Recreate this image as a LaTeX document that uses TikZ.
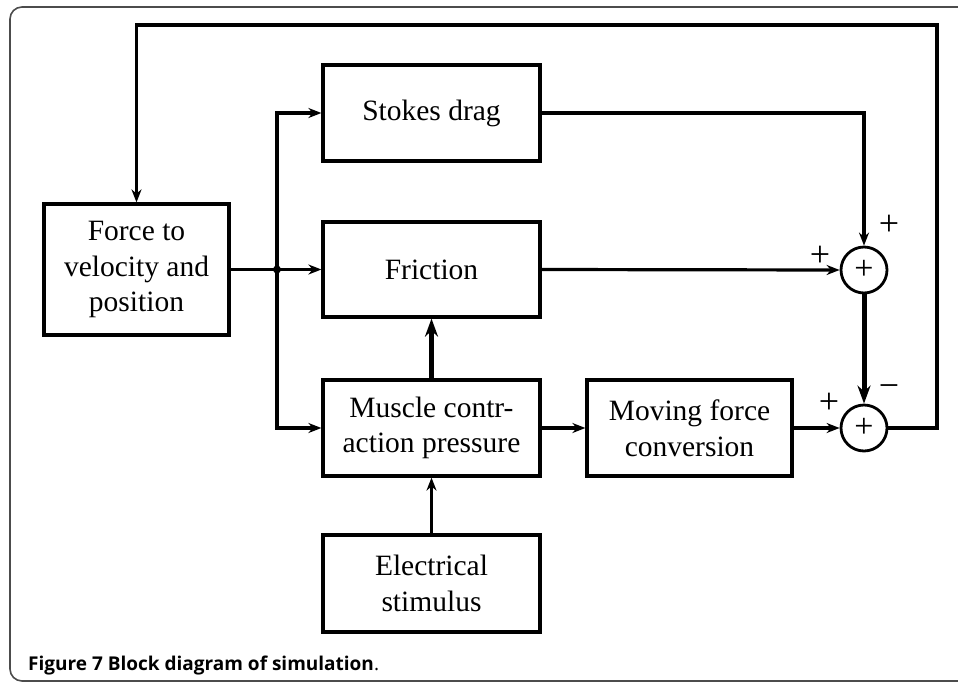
\documentclass[tikz,border=0pt]{standalone}
\usepackage{fontspec}
\setmainfont{Liberation Serif}
\newfontfamily\capfont{Open Sans}
\usetikzlibrary{arrows.meta}
\begin{document}
\begin{tikzpicture}[x=1pt,y=-1pt,
  blk/.style={draw,line width=3.2pt,rectangle,align=center,inner sep=0pt,
    font=\fontsize{29.5}{35.5}\selectfont},
  sumnode/.style={draw,line width=2.8pt,circle,minimum size=46pt,inner sep=0pt,
    font=\fontsize{34}{34}\selectfont},
  conn/.style={line width=3.2pt,-{Stealth[length=13pt,width=10pt]}},
  plain/.style={line width=3.2pt},
  thick conn/.style={line width=5pt,-{Stealth[length=18pt,width=13pt]}},
  sgn/.style={font=\fontsize{36}{36}\selectfont,inner sep=0pt}]
\useasboundingbox (0,0) rectangle (958,683);
\draw[line width=1.6pt,draw=black!70,rounded corners=12pt] (10,7) rectangle (990,681);
\node[blk,minimum width=185pt,minimum height=131pt] (force) at (136.5,269.5) {Force to\\velocity and\\position};
\node[blk,minimum width=217pt,minimum height=96pt] (stokes) at (431.5,113) {Stokes drag};
\node[blk,minimum width=217pt,minimum height=95pt] (friction) at (431.5,269.5) {Friction};
\node[blk,minimum width=217pt,minimum height=96pt] (muscle) at (431.5,428) {Muscle contr-\\action pressure};
\node[blk,minimum width=205pt,minimum height=96pt] (moving) at (689.5,428) {Moving force\\conversion};
\node[blk,minimum width=217pt,minimum height=97pt] (elec) at (431.5,583.5) {Electrical\\stimulus};
\node[sumnode] (sum1) at (864,270) {+};
\node[sumnode] (sum2) at (864,428) {+};
\coordinate (j) at (277,269.5);
\coordinate (fbR) at (937,25);
\fill (j) circle (4pt);
\draw[plain] (force.east) -- (j);
\draw[conn] (j) |- (stokes.west);
\draw[conn] (j) -- (friction.west);
\draw[conn] (j) |- (muscle.west);
\draw[conn] (stokes.east) -| (sum1.north);
\draw[conn] (friction.east) -- (sum1.west);
\draw[thick conn] (sum1.south) -- (sum2.north);
\draw[thick conn] (muscle.north) -- (friction.south);
\draw[conn] (elec.north) -- (muscle.south);
\draw[conn] (muscle.east) -- (moving.west);
\draw[conn] (moving.east) -- (sum2.west);
\draw[conn] (sum2.east) -| (fbR) -| (force.north);
\node[sgn] (p1) at (889,225) {+};
\node[sgn] (p2) at (820,256) {+};
\node[sgn] (m1) at (889,391) {\textminus};
\node[sgn] (p3) at (829,403) {+};
\node[anchor=base west,inner sep=0pt,font=\capfont\fontsize{19}{22}\selectfont] (cap) at (28,670)
  {\textbf{Figure 7 Block diagram of simulation}.};
\end{tikzpicture}
\end{document}
